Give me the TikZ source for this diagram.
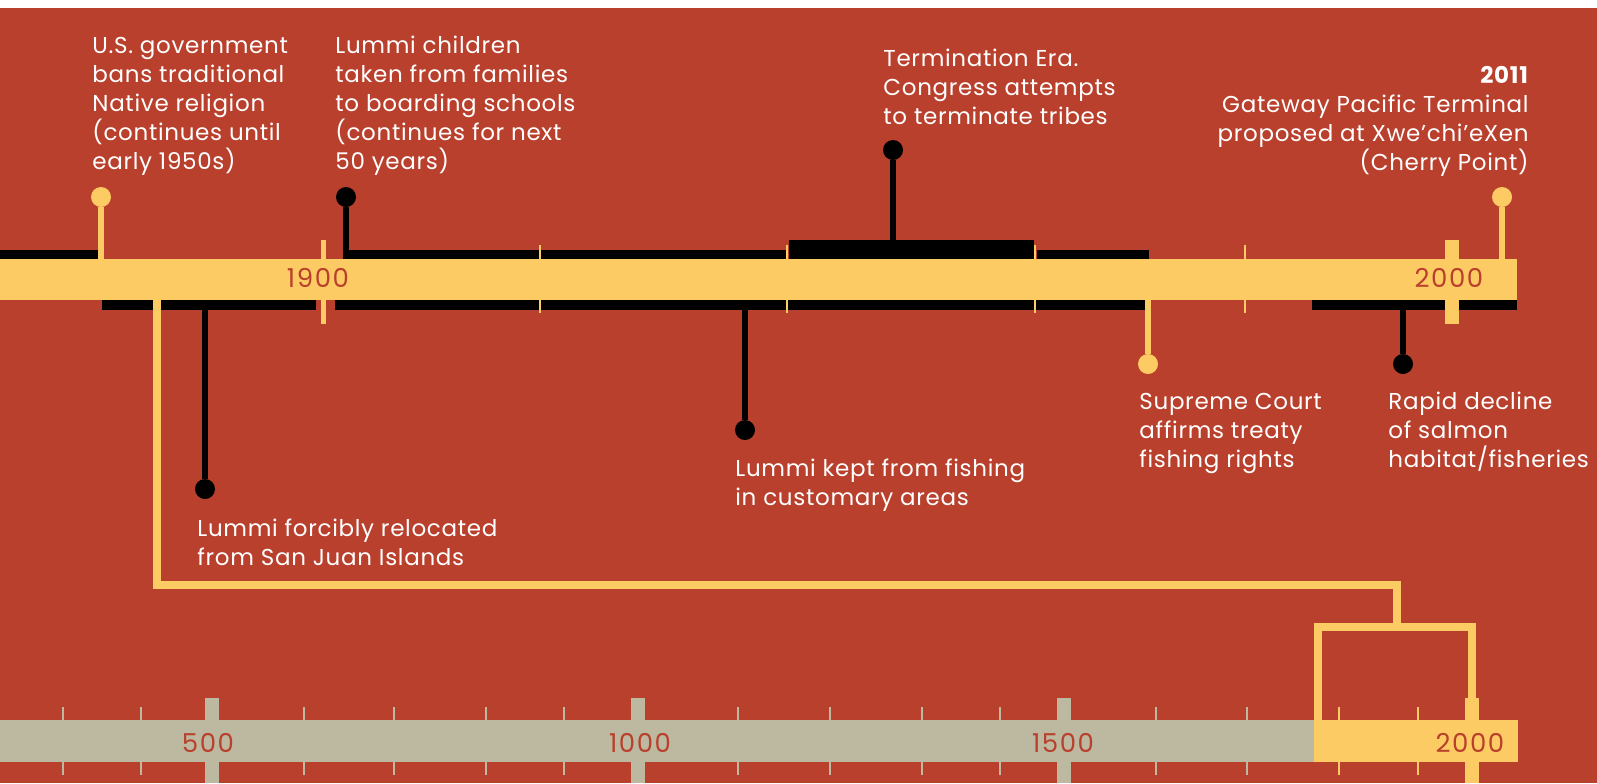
\documentclass[tikz,border=0pt]{standalone}
\usepackage{fontspec}
\setmainfont{Poppins}[LetterSpace=3]
\usetikzlibrary{positioning}
\definecolor{brick}{RGB}{185,64,44}
\definecolor{sand}{RGB}{253,203,99}
\definecolor{stone}{RGB}{189,184,160}
\tikzset{
  note/.style = {
      text=white,
      font=\fontsize{11.5}{14.4}\selectfont,
      align=left,
      inner sep=0pt,
      anchor=base west
  },
  ydot/.style = {
      circle,
      fill=sand,
      minimum size=10pt,
      inner sep=0pt
  },
  bdot/.style = {
      ydot,
      fill=black
  },
  ystem/.style = {
      draw=sand,
      line width=3pt
  },
  bstem/.style = {
      ystem,
      draw=black
  },
  year/.style = {
      text=brick,
      font=\fontsize{13}{14}\selectfont\addfontfeature{LetterSpace=6},
      inner sep=0pt,
      anchor=base
  },
  link/.style = {
      draw=sand,
      line width=4pt,
      line join=miter
  }
}

\begin{document}
\begin{tikzpicture}[x=0.5pt,y=-0.5pt]
    % Canvas
    \useasboundingbox (0,0) rectangle (1597,783);
    \fill[white] (0,0) rectangle (1597,783);
    \fill[brick] (0,8) rectangle (1597,783);
    % Black bands of the modern timeline
    \fill (0,250) rectangle (98,259);
    \fill (343,250) rectangle (786,259);
    \fill (789,240) rectangle (1034,259);
    \fill (1037,250) rectangle (1149,259);
    \fill (102,300) rectangle (316,310);
    \fill (335,300) rectangle (1145,310);
    \fill (1312,300) rectangle (1517,310);
    % Modern timeline bar
    \fill[sand] (0,259) rectangle (1517,300);
    \foreach \x in {540,787,1035,1245}
        \fill[sand] (\x-1.4,245) rectangle (\x+1.4,313);
    \fill[sand] (320.7,240) rectangle (325.7,324);
    \fill[sand] (1445,240) rectangle (1459,324);
    \node[year] (y1900) at (318,287) {1900};
    \node[year] (y2000) at (1449,287) {2000};
    % Long timeline
    \foreach \x in {63,141,304,394,486,564,738,830,922,1000,1156,1247}
        \fill[stone] (\x-1.3,707) rectangle (\x+1.3,775);
    \foreach \x in {1339,1418}
        \fill[sand] (\x-1.3,707) rectangle (\x+1.3,775);
    \foreach \x in {212,638,1064}
        \fill[stone] (\x-7,698) rectangle (\x+7,783);
    \fill[sand] (1465,698) rectangle (1479,783);
    \fill[stone] (0,720) rectangle (1314,762);
    \fill[sand] (1314,720) rectangle (1518,762);
    \node[year] (y500) at (208,752) {500};
    \node[year] (y1000) at (640,752) {1000};
    \node[year] (y1500) at (1063,752) {1500};
    \node[year] (y2000b) at (1470,752) {2000};
    % Zoom connector
    \coordinate (zTop) at (157,300);
    \coordinate (zMid) at (1397,627);
    \coordinate (zLeft) at (1318,722);
    \coordinate (zRight) at (1472,698);
    \draw[link] (zTop) |- (1397,585) -- (zMid);
    \draw[link] (zLeft) |- (zMid) -| (zRight);
    % Dots
    \node[ydot] (d1) at (101,197) {};
    \node[bdot] (d2) at (346,197) {};
    \node[bdot] (d3) at (893,150) {};
    \node[ydot] (d4) at (1502,197) {};
    \node[bdot] (d5) at (205,489) {};
    \node[bdot] (d6) at (745,430) {};
    \node[ydot] (d7) at (1148,364) {};
    \node[bdot] (d8) at (1403,364) {};
    % Stems
    \coordinate (s1) at (101,259);
    \coordinate (s2) at (346,250);
    \coordinate (s3) at (893,240);
    \coordinate (s4) at (1502,259);
    \coordinate (s5) at (205,310);
    \coordinate (s6) at (745,310);
    \coordinate (s7) at (1148,300);
    \coordinate (s8) at (1403,310);
    \draw[ystem] (d1) -- (s1);
    \draw[bstem] (d2) -- (s2);
    \draw[bstem] (d3) -- (s3);
    \draw[ystem] (d4) -- (s4);
    \draw[bstem] (d5) -- (s5);
    \draw[bstem] (d6) -- (s6);
    \draw[ystem] (d7) -- (s7);
    \draw[bstem] (d8) -- (s8);
    % Notes (placed at the baseline of their last line)
    \node[note] (tReligion) at (92,169)
        {U.S. government\\bans traditional\\Native religion\\(continues until\\early 1950s)};
    \node[note] (tSchools) at (335,169)
        {Lummi children\\taken from families\\to boarding schools\\(continues for next\\50 years)};
    \node[note] (tTermination) at (883,124)
        {Termination Era.\\Congress attempts\\to terminate tribes};
    \node[note, anchor=base east, align=right] (tTerminal) at (1529,170)
        {\textbf{2011}\\Gateway Pacific Terminal\\proposed at Xwe’chi’eXen\\(Cherry Point)};
    \node[note] (tRelocated) at (197,565)
        {Lummi forcibly relocated\\from San Juan Islands};
    \node[note] (tFishing) at (735,505)
        {Lummi kept from fishing\\in customary areas};
    \node[note] (tCourt) at (1139,467)
        {Supreme Court\\affirms treaty\\fishing rights};
    \node[note] (tSalmon) at (1388,467)
        {Rapid decline\\of salmon\\habitat/fisheries};
\end{tikzpicture}
\end{document}
